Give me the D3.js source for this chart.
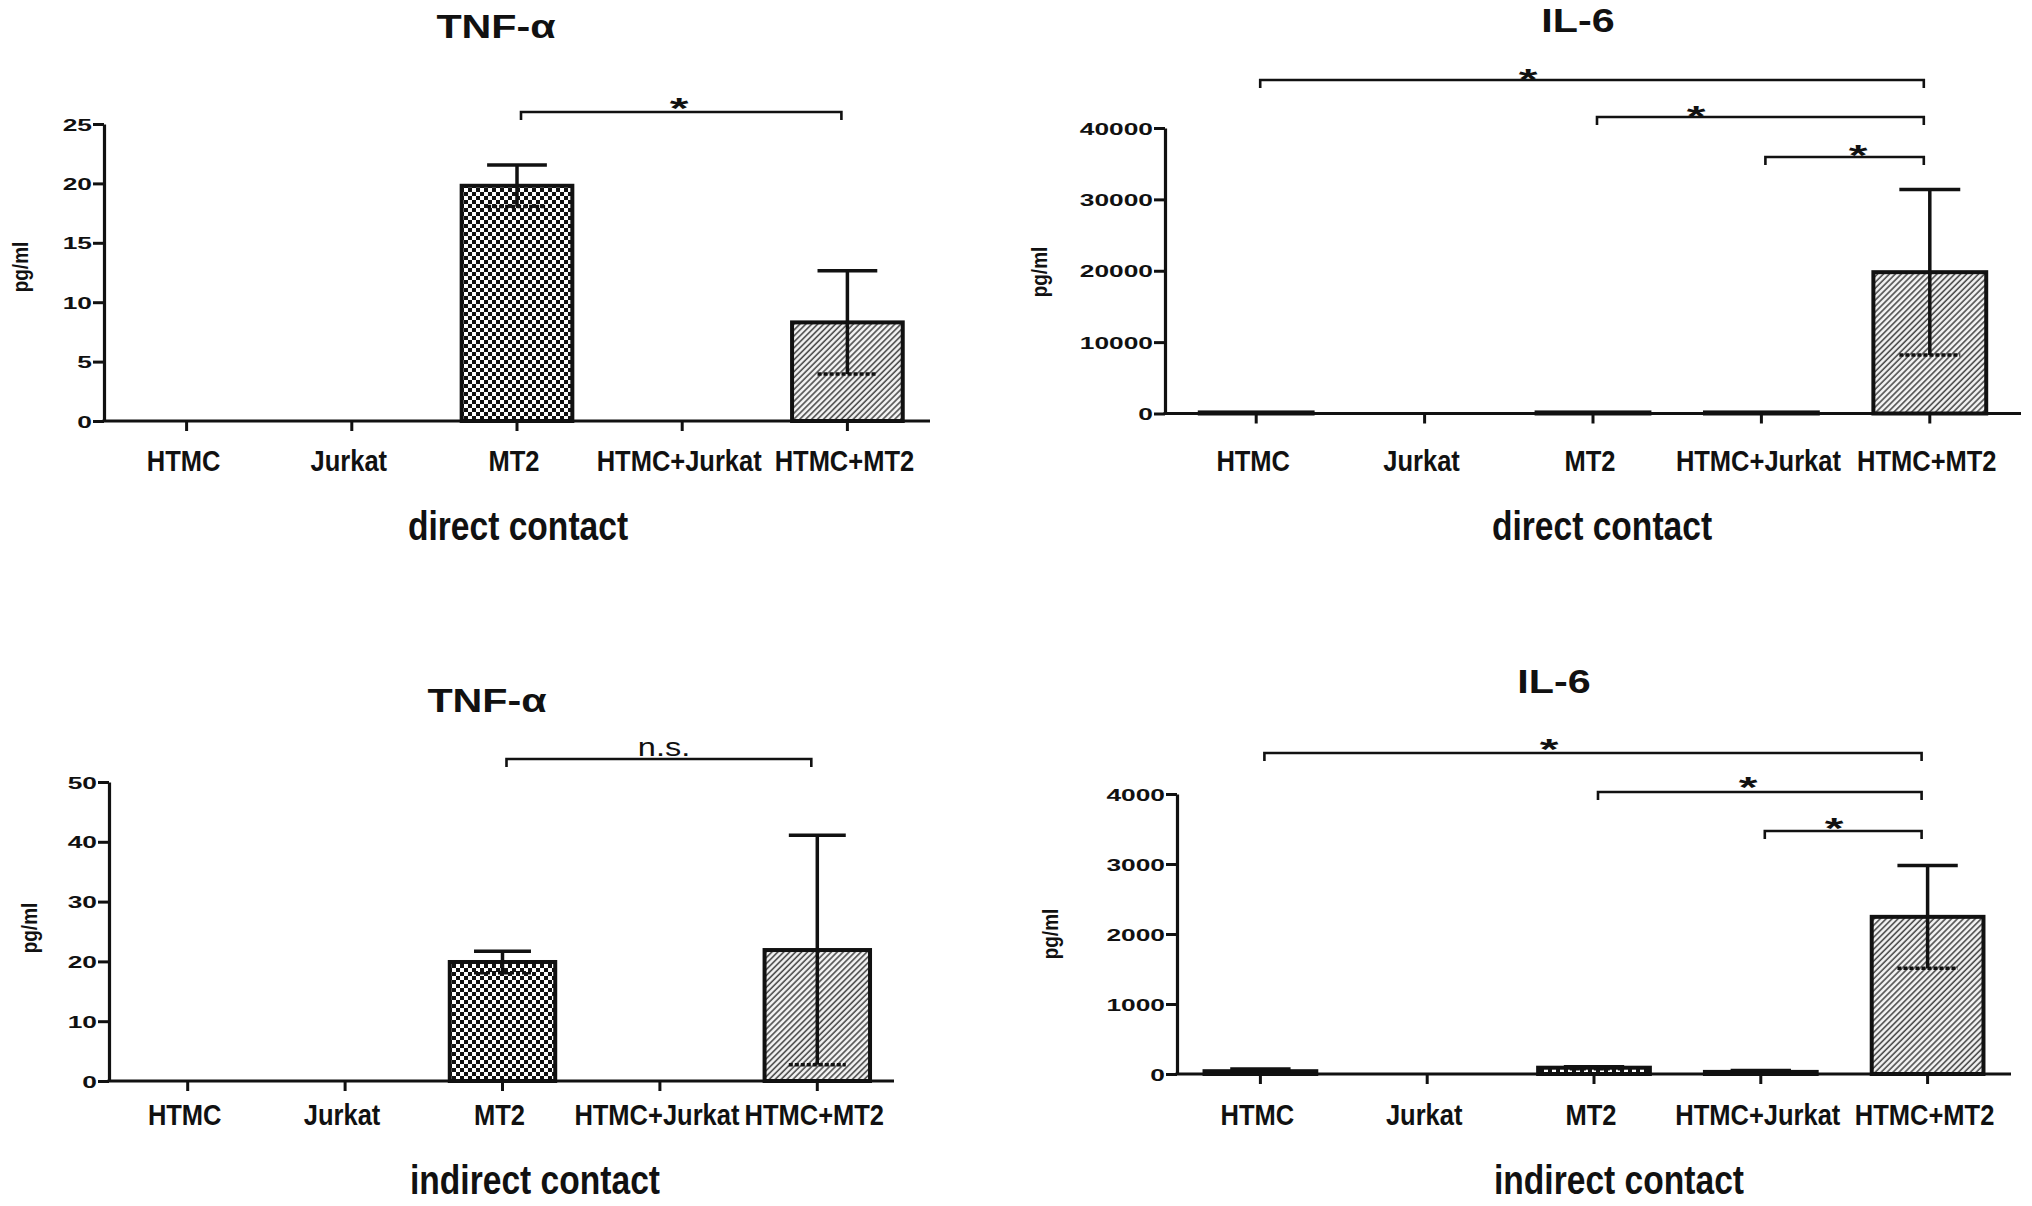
<!DOCTYPE html>
<html>
<head>
<meta charset="utf-8">
<script src="https://cdn.jsdelivr.net/npm/d3@7/dist/d3.min.js"></script>
<style>
  html, body { margin: 0; padding: 0; background: #ffffff; }
  svg { display: block; }
</style>
</head>
<body>
<script>
// ---------- DATA ----------
const categories = ["HTMC", "Jurkat", "MT2", "HTMC+Jurkat", "HTMC+MT2"];

const tnfDirectMean   = [0, 0, 19.8, 0, 8.3];
const tnfDirectErr    = [0, 0, 1.75, 0, 4.35];
const il6DirectMean   = [150, 0, 150, 150, 19800];
const il6DirectErr    = [0, 0, 0, 0, 11600];
const tnfIndirectMean = [0, 0, 19.9, 0, 21.9];
const tnfIndirectErr  = [0, 0, 1.8, 0, 19.2];
const il6IndirectMean = [40, 0, 90, 30, 2245];
const il6IndirectErr  = [30, 0, 15, 20, 735];

const tnfDirectTicks   = [0, 5, 10, 15, 20, 25];
const il6DirectTicks   = [0, 10000, 20000, 30000, 40000];
const tnfIndirectTicks = [0, 10, 20, 30, 40, 50];
const il6IndirectTicks = [0, 1000, 2000, 3000, 4000];

const tnfDirectSig   = [["MT2", "HTMC+MT2", "*"]];
const il6DirectSig   = [["HTMC", "HTMC+MT2", "*"], ["MT2", "HTMC+MT2", "*"], ["HTMC+Jurkat", "HTMC+MT2", "*"]];
const tnfIndirectSig = [["MT2", "HTMC+MT2", "n.s."]];
const il6IndirectSig = [["HTMC", "HTMC+MT2", "*"], ["MT2", "HTMC+MT2", "*"], ["HTMC+Jurkat", "HTMC+MT2", "*"]];

const titles  = ["TNF-\u03b1", "IL-6", "TNF-\u03b1", "IL-6"];
const xTitles = ["direct contact", "direct contact", "indirect contact", "indirect contact"];
const yTitle  = "pg/ml";

// ---------- LAYOUT ----------
const W = 2032, H = 1206;
const panels = [
  { mean: tnfDirectMean, err: tnfDirectErr, ticks: tnfDirectTicks, sig: tnfDirectSig,
    ax0: 104, ax1: 930, band: [104, 930], y0: 421, yTop: 124,
    titleX: 496, titleY: 38, xtX: 518, xtY: 540, catY: 471, ylX: 22, ylY: 267,
    br: [{ y: 112, lx: 679, ly: 102 }] },
  { mean: il6DirectMean, err: il6DirectErr, ticks: il6DirectTicks, sig: il6DirectSig,
    ax0: 1165, ax1: 2021, band: [1172, 2014], y0: 413.5, yTop: 128,
    titleX: 1578, titleY: 32, xtX: 1602, xtY: 540, catY: 471, ylX: 1041, ylY: 272,
    br: [{ y: 80, lx: 1528, ly: 73 }, { y: 117, lx: 1696, ly: 110 }, { y: 157, lx: 1858, ly: 149 }] },
  { mean: tnfIndirectMean, err: tnfIndirectErr, ticks: tnfIndirectTicks, sig: tnfIndirectSig,
    ax0: 109, ax1: 894, band: [109, 896], y0: 1081, yTop: 782,
    titleX: 487, titleY: 712, xtX: 535, xtY: 1194, catY: 1125, ylX: 31, ylY: 928,
    br: [{ y: 759, lx: 664, ly: 748 }] },
  { mean: il6IndirectMean, err: il6IndirectErr, ticks: il6IndirectTicks, sig: il6IndirectSig,
    ax0: 1177, ax1: 2011, band: [1177, 2011], y0: 1074, yTop: 794,
    titleX: 1554, titleY: 693, xtX: 1619, xtY: 1194, catY: 1125, ylX: 1052, ylY: 934,
    br: [{ y: 753, lx: 1549, ly: 743 }, { y: 792, lx: 1748, ly: 781 }, { y: 831, lx: 1834, ly: 822 }] }
];

const INK = "#111";
const FONT = "'Liberation Sans', Arial, Helvetica, sans-serif";

const svg = d3.select("body").append("svg").attr("width", W).attr("height", H);
svg.append("rect").attr("width", W).attr("height", H).attr("fill", "#ffffff");

// patterns
const defs = svg.append("defs");
const chk = defs.append("pattern").attr("id", "checker").attr("patternUnits", "userSpaceOnUse")
  .attr("width", 8).attr("height", 8);
chk.append("rect").attr("width", 8).attr("height", 8).attr("fill", "#fff");
chk.append("rect").attr("width", 4).attr("height", 4).attr("fill", INK);
chk.append("rect").attr("x", 4).attr("y", 4).attr("width", 4).attr("height", 4).attr("fill", INK);

const hatch = defs.append("pattern").attr("id", "hatch").attr("patternUnits", "userSpaceOnUse")
  .attr("width", 4.2).attr("height", 4.2).attr("patternTransform", "rotate(45)");
hatch.append("rect").attr("width", 4.2).attr("height", 4.2).attr("fill", "#f4f4f4");
hatch.append("line").attr("x1", 1).attr("x2", 1).attr("y1", 0).attr("y2", 4.2)
  .attr("stroke", "#4a4a4a").attr("stroke-width", 1.6);

const fills = ["#fff", "#fff", "url(#checker)", "#fff", "url(#hatch)"];

function boldText(g, x, y, sx, sy, size, txt, weight) {
  return g.append("text")
    .attr("transform", `translate(${x},${y}) scale(${sx},${sy})`)
    .attr("text-anchor", "middle").attr("fill", INK)
    .style("font-family", FONT).style("font-weight", weight || "bold").style("font-size", size + "px")
    .text(txt);
}

panels.forEach((p, pi) => {
  const g = svg.append("g");
  const x = d3.scaleBand().domain(categories).range(p.band).paddingInner(0.33).paddingOuter(0.165);
  const yMax = p.ticks[p.ticks.length - 1];
  const y = d3.scaleLinear().domain([0, yMax]).range([p.y0, p.yTop]);
  const cx = c => x(c) + x.bandwidth() / 2;

  // bars
  const rows = categories.map((c, i) => ({ c, m: p.mean[i], e: p.err[i], f: fills[i] }));
  g.selectAll("rect.bar").data(rows.filter(d => d.m > 0)).join("rect")
    .attr("class", "bar")
    .attr("x", d => x(d.c)).attr("width", x.bandwidth())
    .attr("y", d => y(d.m)).attr("height", d => p.y0 - y(d.m))
    .attr("fill", d => d.f).attr("stroke", INK).attr("stroke-width", 4);

  // error bars
  const capW = x.bandwidth() * 0.54;
  const eb = g.selectAll("g.err").data(rows.filter(d => d.e > 0)).join("g").attr("class", "err");
  eb.append("line")
    .attr("x1", d => cx(d.c)).attr("x2", d => cx(d.c))
    .attr("y1", d => y(d.m + d.e)).attr("y2", d => y(Math.max(0, d.m - d.e)))
    .attr("stroke", INK).attr("stroke-width", 3.5);
  eb.append("line")
    .attr("x1", d => cx(d.c) - capW / 2).attr("x2", d => cx(d.c) + capW / 2)
    .attr("y1", d => y(d.m + d.e)).attr("y2", d => y(d.m + d.e))
    .attr("stroke", INK).attr("stroke-width", 3.5);
  eb.append("line")
    .attr("x1", d => cx(d.c) - capW / 2).attr("x2", d => cx(d.c) + capW / 2)
    .attr("y1", d => y(Math.max(0, d.m - d.e))).attr("y2", d => y(Math.max(0, d.m - d.e)))
    .attr("stroke", INK).attr("stroke-width", 3.5).attr("stroke-dasharray", "4,2");

  // y axis
  const sxTick = 1.55;
  const yAxis = g.append("g").attr("transform", `translate(${p.ax0},0)`)
    .call(d3.axisLeft(y).tickValues(p.ticks).tickSize(11).tickSizeOuter(0).tickFormat(d3.format("d")));
  yAxis.select(".domain").attr("stroke", INK).attr("stroke-width", 3.2);
  yAxis.selectAll(".tick line").attr("stroke", INK).attr("stroke-width", 3);
  yAxis.selectAll(".tick text")
    .attr("x", -12 / sxTick).attr("dy", "0.36em")
    .attr("transform", `scale(${sxTick},1)`)
    .attr("fill", INK).style("font-family", FONT).style("font-weight", "bold").style("font-size", "17px");

  // x axis
  g.append("line").attr("x1", p.ax0 - 1.5).attr("x2", p.ax1).attr("y1", p.y0).attr("y2", p.y0)
    .attr("stroke", INK).attr("stroke-width", 3.2);
  g.selectAll("line.xt").data(categories).join("line").attr("class", "xt")
    .attr("x1", cx).attr("x2", cx).attr("y1", p.y0).attr("y2", p.y0 + 10)
    .attr("stroke", INK).attr("stroke-width", 3);
  categories.forEach(c => boldText(g, cx(c) - 3, p.catY, 0.85, 1, 30, c));

  // titles
  boldText(g, p.titleX, p.titleY, 1.25, 1, 33, titles[pi]);
  boldText(g, p.xtX, p.xtY, 0.84, 1, 40, xTitles[pi]);
  g.append("text").attr("transform", `translate(${p.ylX + 6},${p.ylY}) rotate(-90) scale(1,1.15)`)
    .attr("text-anchor", "middle")
    .attr("fill", INK).style("font-family", FONT).style("font-weight", "bold").style("font-size", "19px")
    .text(yTitle);

  // significance brackets
  p.sig.forEach((s, si) => {
    const b = p.br[si];
    const xa = cx(s[0]) + 4, xb = cx(s[1]) - 6;
    g.append("path")
      .attr("d", `M${xa},${b.y + 8}V${b.y}H${xb}V${b.y + 8}`)
      .attr("fill", "none").attr("stroke", INK).attr("stroke-width", 2.6);
    const isStar = s[2] === "*";
    if (isStar) boldText(g, b.lx, b.ly + 16, 1.6, 1, 30, s[2]);
    else boldText(g, b.lx, b.ly + 8, 1.3, 1, 25, s[2], "normal");
  });
});
</script>
</body>
</html>
